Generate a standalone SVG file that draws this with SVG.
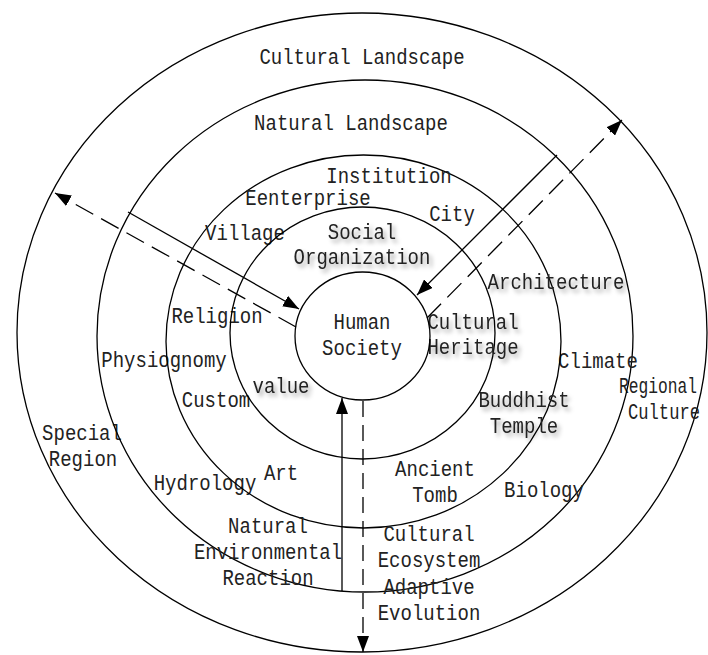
<svg xmlns="http://www.w3.org/2000/svg" width="708" height="655" viewBox="0 0 708 655">
<style>
.ring{fill:none;stroke:#000;stroke-width:1.3}
.t{font-family:"Liberation Mono","DejaVu Sans Mono",monospace;font-size:19px;fill:#222;text-anchor:middle}
.sh{filter:url(#shadow)}
.ln{fill:none;stroke:#000;stroke-width:1.3}
.dash{stroke-dasharray:20 9}
</style>
<defs>
<filter id="shadow" x="-20%" y="-40%" width="140%" height="180%">
<feDropShadow dx="3" dy="3" stdDeviation="2" flood-color="#000" flood-opacity="0.35"/>
</filter>
<marker id="ah" viewBox="0 0 16 12" refX="16" refY="6" markerWidth="16" markerHeight="12" markerUnits="userSpaceOnUse" orient="auto">
<path d="M0,0 L16,6 L0,12 z" fill="#000"/>
</marker>
</defs>
<rect width="708" height="655" fill="#fff"/>

<g id="cultural-landscape">
<ellipse class="ring" cx="362" cy="332.5" rx="345" ry="319.5"/>
<g transform="scale(1 1.15)">
<text class="t" x="362" y="55.65">Cultural Landscape</text>
<text class="t" x="82" y="382.61">Special</text>
<text class="t" x="83" y="405.22">Region</text>
<text class="t" x="658" y="341.74" textLength="78" lengthAdjust="spacingAndGlyphs">Regional</text>
<text class="t" x="664" y="364.35" textLength="72" lengthAdjust="spacingAndGlyphs">Culture</text>
</g>
</g>

<g id="natural-landscape">
<ellipse class="ring" cx="365" cy="336" rx="268" ry="256"/>
<g transform="scale(1 1.15)">
<text class="t" x="351" y="113.04">Natural Landscape</text>
<text class="t" x="164" y="319.13">Physiognomy</text>
<text class="t" x="598" y="320">Climate</text>
<text class="t" x="205" y="426.09">Hydrology</text>
<text class="t" x="544" y="432.17">Biology</text>
</g>
</g>

<g id="institution-ring">
<ellipse class="ring" cx="363.5" cy="341.5" rx="197.5" ry="186.5"/>
<g transform="scale(1 1.15)">
<text class="t" x="389" y="159.13">Institution</text>
<text class="t" x="308" y="178.26">Eenterprise</text>
<text class="t" x="452" y="192.17">City</text>
<text class="t" x="245" y="208.70">Village</text>
<text class="t sh" x="556" y="251.30">Architecture</text>
<text class="t" x="217" y="280.87">Religion</text>
<text class="t" x="216" y="353.91">Custom</text>
<text class="t sh" x="524" y="353.91">Buddhist</text>
<text class="t sh" x="524" y="376.52">Temple</text>
<text class="t" x="281" y="417.39">Art</text>
<text class="t" x="435" y="413.91">Ancient</text>
<text class="t" x="435" y="436.52">Tomb</text>
</g>
</g>

<g id="social-ring">
<ellipse class="ring" cx="362.5" cy="333" rx="132.5" ry="126"/>
<g transform="scale(1 1.15)">
<text class="t sh" x="362" y="207.83">Social</text>
<text class="t sh" x="362" y="229.57">Organization</text>
<text class="t sh" x="473" y="286.09">Cultural</text>
<text class="t sh" x="473" y="307.83">Heritage</text>
<text class="t sh" x="281" y="341.74">value</text>
</g>
</g>

<g id="human-society">
<ellipse class="ring" cx="362.5" cy="336" rx="67.5" ry="64"/>
<g transform="scale(1 1.15)">
<text class="t" x="362" y="286.09">Human</text>
<text class="t" x="362" y="308.70">Society</text>
</g>
</g>

<g id="natural-environmental-reaction">
<g transform="scale(1 1.15)">
<text class="t" x="268" y="463.48">Natural</text>
<text class="t" x="268" y="486.09">Environmental</text>
<text class="t" x="268" y="508.70">Reaction</text>
</g>
</g>

<g id="cultural-ecosystem-adaptive-evolution">
<g transform="scale(1 1.15)">
<text class="t" x="429" y="470.43">Cultural</text>
<text class="t" x="429" y="493.04">Ecosystem</text>
<text class="t" x="429" y="516.52">Adaptive</text>
<text class="t" x="429" y="539.13">Evolution</text>
</g>
</g>

<g id="connectors">
<line class="ln" x1="128" y1="212" x2="299" y2="309" marker-end="url(#ah)"/>
<line class="ln dash" x1="296" y1="327" x2="55" y2="193" marker-end="url(#ah)"/>
<line class="ln" x1="557" y1="155" x2="417" y2="295" marker-end="url(#ah)"/>
<line class="ln dash" x1="427" y1="318" x2="622" y2="120" marker-end="url(#ah)"/>
<line class="ln" x1="342" y1="591" x2="342" y2="398" marker-end="url(#ah)"/>
<line class="ln dash" x1="363" y1="401" x2="363" y2="652" marker-end="url(#ah)" style="stroke-dasharray:16 8"/>
</g>
</svg>
